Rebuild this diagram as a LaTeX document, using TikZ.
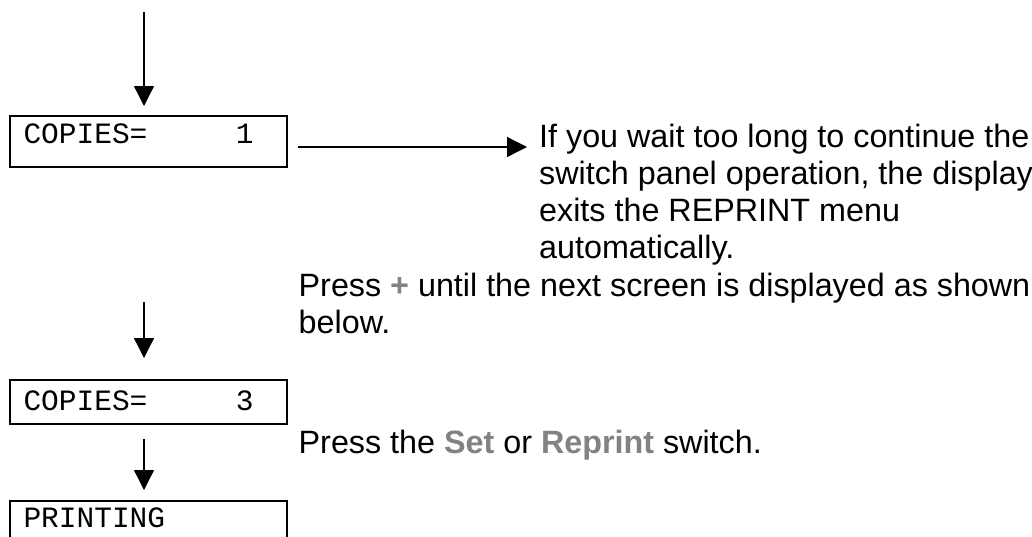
\documentclass[tikz,border=0pt]{standalone}
\usepackage{fontspec}
\setmainfont{Liberation Sans}
\newfontfamily\lcdfont{Liberation Mono}
\usetikzlibrary{arrows.meta}
\definecolor{keygray}{RGB}{130,130,130}
\tikzset{
  lcdbox/.style={draw=black, line width=2pt, inner xsep=13.5pt, inner ysep=0pt,
    text width=250pt, align=left, anchor=north west,
    font=\lcdfont\fontsize{29.5}{30}\selectfont},
  flowarrow/.style={line width=1.3pt, -{Triangle[length=20pt,width=20pt]}},
  bodytext/.style={inner sep=0pt, anchor=base west, align=left,
    font=\fontsize{32.3}{37}\selectfont},
}
\newcommand{\keyname}[1]{\textcolor{keygray}{\bfseries #1}}
\begin{document}
\begin{tikzpicture}[x=1pt,y=-1pt]
\useasboundingbox (0,0) rectangle (1032,536);
% boxes
\node[lcdbox, text height=27pt, text depth=24pt] (box1) at (9,115) {COPIES=\phantom{00000}1};
\node[lcdbox, text height=30pt, text depth=14pt] (box2) at (9,379) {COPIES=\phantom{00000}3};
\node[lcdbox, text height=26pt, text depth=40pt] (box3) at (9,500) {PRINTING};
% texts (base anchor = baseline of the last line)
\node[bodytext] (wait) at (539,258) {If you wait too long to continue the\\switch panel operation, the display\\exits the REPRINT menu\\automatically.};
\node[bodytext] (press) at (298.5,333) {Press \keyname{+} until the next screen is displayed as shown\\below.};
\node[bodytext] (setsw) at (298.5,453) {Press the \keyname{Set} or \keyname{Reprint} switch.};
% helper coordinates
\coordinate (top) at (144,12);
\coordinate (a2) at (144,302);
\coordinate (ax) at (144,0);
\coordinate (hend) at (527,147);
% arrows
\draw[flowarrow, shorten >=9pt] (top) -- (top |- box1.north);
\draw[flowarrow, shorten >=21pt] (a2) -- (a2 |- box2.north);
\draw[flowarrow, shorten <=14pt, shorten >=10pt] (box2.south -| ax) -- (box3.north -| ax);
\draw[flowarrow, shorten <=10pt] (box1.east |- hend) -- (hend);
\end{tikzpicture}
\end{document}
